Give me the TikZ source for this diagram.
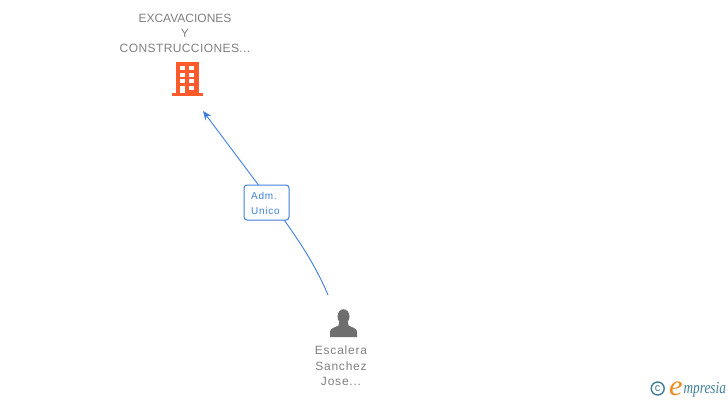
\documentclass[tikz,border=0pt]{standalone}
\usepackage{fontspec}
\setmainfont{Liberation Sans}
\newfontfamily\logofont{Liberation Serif}
\newfontfamily\spacedfont[LetterSpace=6.5]{Liberation Sans}
\newfontfamily\tagfont[LetterSpace=7]{Liberation Sans}
\newfontfamily\widefont[LetterSpace=3.4]{Liberation Sans}
\usetikzlibrary{arrows.meta}
\definecolor{lbl}{HTML}{808080}
\definecolor{conn}{HTML}{3F7FDC}
\definecolor{orangeb}{HTML}{FF5A2C}
\definecolor{persong}{HTML}{6E6E6E}
\definecolor{teal}{HTML}{3F7F96}
\definecolor{logoor}{HTML}{F08A1D}
\tikzset{
  x=1pt,y=-1pt,
  lab/.style={text=lbl,align=center,inner sep=0pt,font=\fontsize{12}{15}\selectfont},
  person lab/.style={text=lbl,align=center,inner sep=0pt,font=\fontsize{12}{15.5}\selectfont\spacedfont},
  tagbox/.style={draw=conn,fill=white,rounded corners=3pt,line width=1pt,minimum width=45pt,minimum height=35pt,inner sep=0pt},
  tagtext/.style={anchor=west,inner sep=0pt,text=conn,font=\fontsize{10}{12}\selectfont\tagfont},
  link/.style={draw=conn,line width=.9pt},
  win/.style={fill=white,draw=none},
}
\begin{document}
\begin{tikzpicture}
\useasboundingbox (0,0) rectangle (728,400);
\fill[white] (0,0) rectangle (728,400);
% labels
\node[lab] (company) at (185,33) {EXCAVACIONES\\Y\\{\widefont CONSTRUCCIONES...}};
\node[person lab] (personlabel) at (341,366) {Escalera\\Sanchez\\Jose...};
% building icon
\fill[orangeb] (176,62) rectangle (198.7,94);
\fill[orangeb] (172,92.8) rectangle (203.3,96);
\foreach \yy in {66,72.7,79.3}{
  \fill[win] (180,\yy) rectangle +(4.7,4);
  \fill[win] (189.3,\yy) rectangle +(4.7,4);
}
\fill[win] (180,86) rectangle (184.7,92.8);
\fill[win] (189.3,86) rectangle (194,90);
% person icon
\fill[persong] (343.5,316.5) ellipse (6 and 7.3);
\fill[persong] (330,337) -- (330,331.5) .. controls (330.5,328) and (335,327.5) .. (338.5,325.5)
  -- (339,322) -- (348,322) -- (348.5,325.5) .. controls (352,327.5) and (356.5,328) .. (357,331.5) -- (357,337) -- cycle;
% connector
\coordinate (from) at (328,295);
\coordinate (to) at (203,111);
\draw[link,-{Stealth[length=9pt,width=7.5pt]}] (from) .. controls (312,257) and (290,228) .. (266,195) -- (to);
\node[tagbox] (role) at (266.5,202.5) {};
\node[tagtext] (roleone) at (251,196) {Adm.};
\node[tagtext] (roletwo) at (251,211) {Unico};
% logo
\node[draw=teal,line width=1.4pt,circle,minimum size=13pt,inner sep=0pt,text=teal,font=\fontsize{11}{11}\selectfont] (copy) at (657.7,388.5) {c};
\node[inner sep=0pt,anchor=base west,xscale=1.05,transform shape,text=logoor,font=\fontsize{29}{29}\selectfont\logofont\itshape] (logoe) at (669,395) {e};
\node[inner sep=0pt,anchor=base west,xscale=.78,transform shape,text=teal,font=\fontsize{17}{17}\selectfont\logofont\itshape] (logot) at (683.5,393.5) {mpresia};
\end{tikzpicture}
\end{document}
